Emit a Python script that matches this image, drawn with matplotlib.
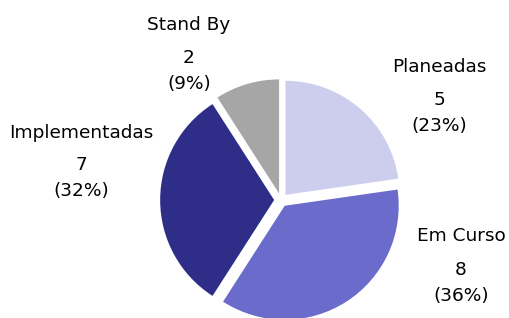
import matplotlib
matplotlib.use("Agg")
import matplotlib.pyplot as plt

categories = ["Planeadas", "Em Curso", "Implementadas", "Stand By"]
values = [5, 8, 7, 2]
colors = ["#CDCDEE", "#6B6BCC", "#2E2E88", "#A6A6A6"]

# label layout (pixel anchors of name line and number line centres)
label_px = [(439, 67, 100), (461, 236, 270), (81, 133, 165), (189, 25, 58)]

W, H = 509, 318
cx, cy, R = 281, 200, 114

fig = plt.figure(figsize=(W / 100, H / 100), dpi=100)
ax = fig.add_axes([0, 0, 1, 1])
ax.pie(values, colors=colors, startangle=90, counterclock=False,
       explode=[0.06] * len(values), radius=1.0,
       wedgeprops=dict(linewidth=0))
ax.set_xlim(-cx / R, (W - cx) / R)
ax.set_ylim(-(H - cy) / R, cy / R)
ax.set_aspect("equal")
ax.axis("off")

total = sum(values)
fs = 13.3
for name, v, (px, py_name, py_num) in zip(categories, values, label_px):
    x = (px - cx) / R
    ax.text(x, (cy - py_name) / R, name, ha="center", va="center", fontsize=fs,
            family="DejaVu Sans")
    ax.text(x, (cy - py_num) / R, f"{v}", ha="center", va="center", fontsize=fs,
            family="DejaVu Sans")
    ax.text(x, (cy - py_num - 26) / R, f"({round(100 * v / total)}%)", ha="center",
            va="center", fontsize=fs, family="DejaVu Sans")

fig.savefig("out.png", dpi=100)
